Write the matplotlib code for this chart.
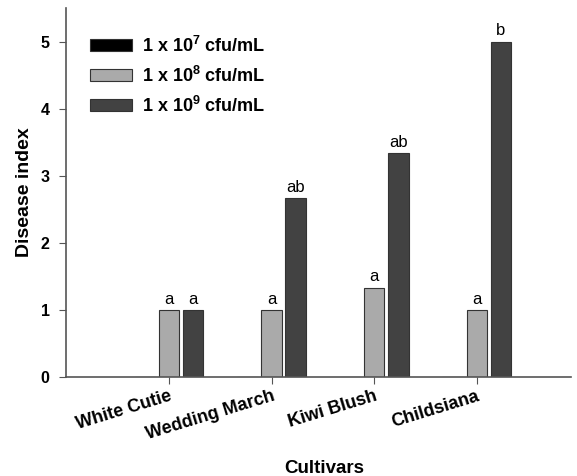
import matplotlib
matplotlib.use("Agg")
import matplotlib.pyplot as plt
import numpy as np

plt.rcParams['font.family'] = ['Liberation Sans', 'DejaVu Sans']
plt.rcParams['mathtext.fontset'] = 'custom'
plt.rcParams['mathtext.bf'] = 'Liberation Sans:bold'
plt.rcParams['mathtext.rm'] = 'Liberation Sans:bold'

cultivars = ['White Cutie', 'Wedding March', 'Kiwi Blush', 'Childsiana']
series = [r'1 x 10$^\mathbf{7}$ cfu/mL', r'1 x 10$^\mathbf{8}$ cfu/mL', r'1 x 10$^\mathbf{9}$ cfu/mL']
conc_1e7 = [0, 0, 0, 0]
conc_1e8 = [1.0, 1.0, 1.333, 1.0]
conc_1e9 = [1.0, 2.667, 3.333, 5.0]
letters_1e8 = ['a', 'a', 'a', 'a']
letters_1e9 = ['a', 'ab', 'ab', 'b']

colors = ['#000000', '#aaaaaa', '#424242']

fig = plt.figure(figsize=(5.77, 4.76), dpi=100)
ax = fig.add_axes([0.115, 0.208, 0.875, 0.775])

x = np.arange(1, len(cultivars) + 1)
w = 0.2
step = 0.235
vals = [conc_1e7, conc_1e8, conc_1e9]
for i, (v, c, lab) in enumerate(zip(vals, colors, series)):
    ax.bar(x + (i - 1) * step, v, w, color=c, edgecolor='#333333', linewidth=0.8, label=lab)

# significance letters
for xi, v, t in zip(x, conc_1e8, letters_1e8):
    ax.text(xi, v + 0.05, t, ha='center', va='bottom', fontsize=12)
for xi, v, t in zip(x + step, conc_1e9, letters_1e9):
    ax.text(xi, v + 0.05, t, ha='center', va='bottom', fontsize=12)

ax.set_xlim(0, 4.92)
ax.set_ylim(0, 5.5)
ax.set_yticks([0, 1, 2, 3, 4, 5])
ax.set_xticks(x)
ax.set_xticklabels(cultivars, rotation=17, ha='right', rotation_mode='anchor',
                   fontsize=13, fontweight='bold')
for lbl in ax.get_yticklabels():
    lbl.set_fontweight('bold')
    lbl.set_fontsize(11.5)
ax.tick_params(axis='both', colors='#555555', labelcolor='black', length=5)
ax.tick_params(axis='x', pad=3)
ax.tick_params(axis='y', pad=7)
for s in ['top', 'right']:
    ax.spines[s].set_visible(False)
for s in ['left', 'bottom']:
    ax.spines[s].set_color('#555555')
    ax.spines[s].set_linewidth(1.2)

ax.set_ylabel('Disease index', fontsize=14, fontweight='bold')
ax.yaxis.set_label_coords(-0.067, 0.5)
ax.set_xlabel('Cultivars', fontsize=13.5, fontweight='bold')
ax.xaxis.set_label_coords(0.51, -0.226)

ax.legend(loc='upper left', bbox_to_anchor=(0.014, 0.97), frameon=False,
          prop={'weight': 'bold', 'size': 13}, handlelength=2.33, handleheight=0.67,
          labelspacing=0.55, handletextpad=0.55)

fig.savefig('out.png', dpi=100)
